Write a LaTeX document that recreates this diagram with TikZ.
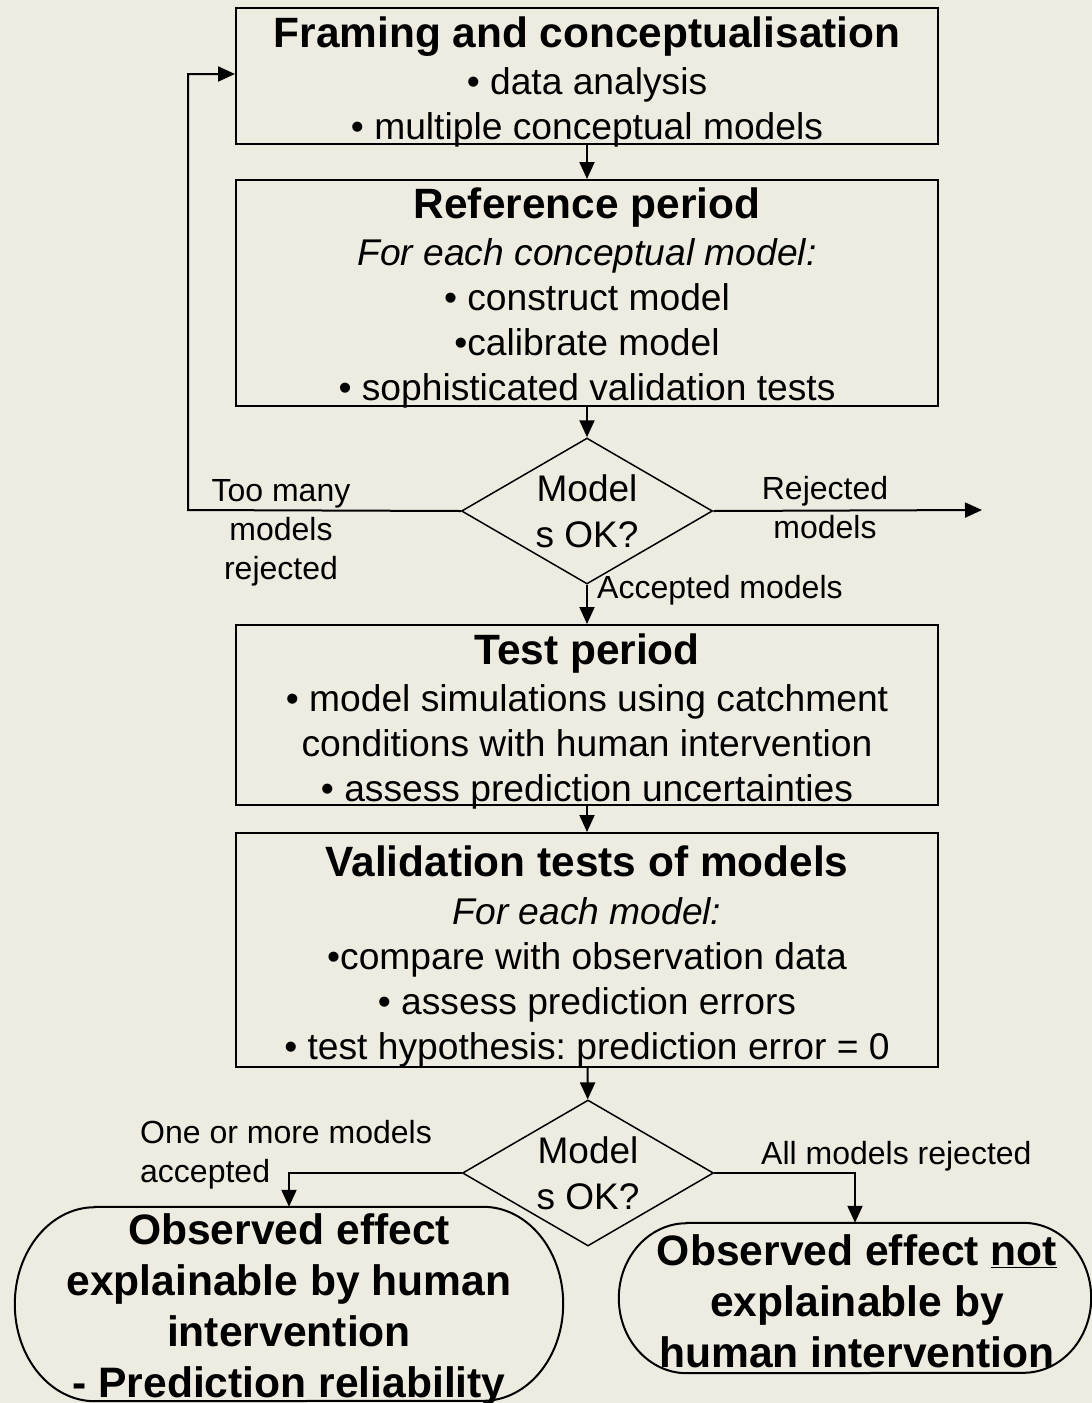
\documentclass[tikz,border=0pt]{standalone}
\usepackage{fontspec}
\setmainfont{Liberation Sans}
\usetikzlibrary{shapes.geometric,arrows.meta,calc}
\definecolor{paper}{HTML}{EEECE1}
\frenchspacing
\begin{document}
\begin{tikzpicture}[x=1pt,y=1pt,
  box/.style={draw, line width=2pt, rectangle, minimum width=702, inner sep=0pt},
  boxtext/.style={align=center, inner sep=0pt, font=\fontsize{37.2}{45}\selectfont},
  decision/.style={draw, line width=1.5pt, diamond, aspect=1.72, inner sep=0pt,
    minimum width=251, minimum height=146, align=center,
    font=\fontsize{37}{46}\selectfont},
  flow/.style={line width=2pt, -{Triangle[length=17pt,width=15pt]}},
  tag/.style={font=\fontsize{32}{39}\selectfont, inner sep=0pt, align=center},
  endtext/.style={font=\fontsize{42.6}{51}\selectfont\bfseries, align=center,
    inner sep=0pt, rectangle},
  outline/.style={line width=2pt}
]
\newcommand{\hd}[1]{{\fontsize{42.4}{45}\selectfont\bfseries #1}}
% canvas
\useasboundingbox (0,0) rectangle (1092,-1403);
\fill[paper] (0,0) rectangle (1092,-1403);

% process boxes
\node[box, minimum height=136] (b1) at (587,-76) {};
\node[boxtext] (b1t) at ([yshift=-6]b1.center)
  {\hd{Framing and conceptualisation}\\[2pt]
   • data analysis\\
   • multiple conceptual models};
\node[box, minimum height=226] (b2) at (587,-293) {};
\node[boxtext] (b2t) at ([yshift=-5]b2.center)
  {\hd{Reference period}\\[2pt]
   \itshape For each conceptual model:\\
   • construct model\\
   •calibrate model\\
   • sophisticated validation tests};
\node[decision] (d1) at (587,-511) {Model\\s OK?};
\node[box, minimum height=180] (b3) at (587,-715) {};
\node[boxtext] (b3t) at ([yshift=-6]b3.center)
  {\hd{Test period}\\[2pt]
   • model simulations using catchment\\
   conditions with human intervention\\
   • assess prediction uncertainties};
\node[box, minimum height=234] (b4) at (587,-950) {};
\node[boxtext] (b4t) at ([yshift=-6]b4.center)
  {\hd{Validation tests of models}\\[3pt]
   \itshape For each model:\\
   •compare with observation data\\
   • assess prediction errors\\
   • test hypothesis: prediction error = 0};
\node[decision] (d2) at (588,-1173) {Model\\s OK?};

% terminators
\node[rectangle, inner sep=0pt, minimum width=548, minimum height=194] (t1) at (289,-1304) {};
\node[endtext] (t1t) at (289,-1310)
  {Observed effect\\explainable by human\\intervention\\- Prediction reliability};
\node[rectangle, inner sep=0pt, minimum width=472, minimum height=150] (t2) at (855,-1298) {};
\node[endtext] (t2t) at (857,-1301)
  {Observed effect \underline{not}\\explainable by\\human intervention};
\draw[outline] ([xshift=80]t1.north west) -- ([xshift=-80]t1.north east)
  arc[start angle=90, end angle=-90, x radius=80, y radius=97]
  -- ([xshift=80]t1.south west)
  arc[start angle=270, end angle=90, x radius=80, y radius=97] -- cycle;
\draw[outline] ([xshift=68]t2.north west) -- ([xshift=-68]t2.north east)
  arc[start angle=90, end angle=-90, x radius=68, y radius=75]
  -- ([xshift=68]t2.south west)
  arc[start angle=270, end angle=90, x radius=68, y radius=75] -- cycle;

% connectors
\coordinate (loop) at (188,-510);
\coordinate (out) at (982,-510);
\draw[flow] (b1) -- (b2);
\draw[flow] (b2) -- (d1);
\draw[flow] (d1.west) -- (loop) |- ([yshift=2]b1.west);
\draw[flow] (d1.east) -- (out);
\draw[flow] (d1) -- (b3);
\draw[flow] (b3) -- (b4);
\draw[flow] (b4) -- (d2);
\draw[flow] (d2.west) -| (t1.north);
\draw[flow] (d2.east) -| (t2.north);

% branch labels
\node[tag] (l1) at (281,-533) {Too many\\models\\rejected};
\node[tag] (l2) at (825,-508) {Rejected\\models};
\node[tag, anchor=west] (l3) at (597,-590) {Accepted models};
\node[tag, anchor=west, align=left] (l4) at (140,-1155) {One or more models\\accepted};
\node[tag, anchor=west] (l5) at (761,-1156) {All models rejected};
\end{tikzpicture}
\end{document}
